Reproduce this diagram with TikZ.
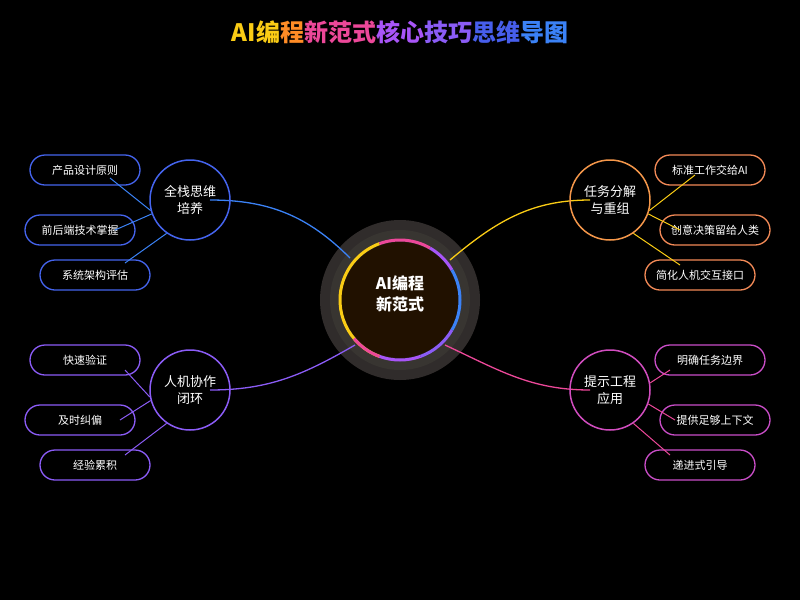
\documentclass[tikz,border=0pt]{standalone}
\usepackage{fontspec}
\setmainfont{Noto Sans CJK SC}
\usetikzlibrary{shapes.misc}
\definecolor{cb}{HTML}{3B82F6}\definecolor{ci}{HTML}{4F46E5}
\definecolor{cy}{HTML}{FACC15}\definecolor{cp}{HTML}{EC4899}
\definecolor{cv}{HTML}{8B5CF6}\definecolor{cmag}{HTML}{A855F7}
\begin{document}
\begin{tikzpicture}[x=1pt,y=-1pt,
 leaf/.style={rounded rectangle,minimum width=110pt,minimum height=30pt,line width=1.3pt,text=white,font=\fontsize{11}{11}\selectfont,inner sep=0pt},
 branch/.style={circle,minimum size=80pt,line width=1.5pt,text=white,align=center,font=\fontsize{13}{17}\selectfont,inner sep=0pt},
 conn/.style={line width=1.3pt},
 sub/.style={line width=1pt}]
\fill[black] (0,0) rectangle (800,600);
\useasboundingbox (0,0) rectangle (800,600);
% title
\node (title) at (400,32) {\fontsize{24}{24}\selectfont\bfseries\textcolor{cy}{AI编}\textcolor{orange!80!pink}{程}\textcolor{cp}{新范式}\textcolor{cmag}{核心}\textcolor{cv}{技巧}\textcolor{ci!60!cb}{思维}\textcolor{cb}{导图}};
% center glow
\fill[yellow!6!black] (400,300) circle (80);
\fill[yellow!10!black] (400,300) circle (70);
\fill[orange!13!black] (400,300) circle (60);
\draw[gray!30!black,line width=0.8pt] (345,280) arc[start angle=200,end angle=340,radius=58.5];
\draw[gray!30!black,line width=0.8pt] (345,320) arc[start angle=160,end angle=20,radius=58.5];
% connectors
\coordinate (c1) at (350,258); \coordinate (c2) at (450,260);
\coordinate (c3) at (355,345); \coordinate (c4) at (445,345);
\coordinate (b1) at (210,200); \coordinate (b2) at (590,200);
\coordinate (b3) at (210,390); \coordinate (b4) at (590,390);
\draw[conn,cb] (b1) to[out=0,in=135] (c1);
\draw[conn,cy] (b2) to[out=180,in=40] (c2);
\draw[conn,cv] (b3) to[out=0,in=-150] (c3);
\draw[conn,cp] (b4) to[out=180,in=-25] (c4);
% center ring
\node[circle,minimum size=120pt,inner sep=0pt] (center) at (400,300) {};
\draw[line width=3pt,cy] (400,300) ++(110:60) arc[start angle=110,end angle=250,radius=60];
\draw[line width=3pt,cp] (400,300) ++(250:60) arc[start angle=250,end angle=300,radius=60];
\draw[line width=3pt,cmag] (400,300) ++(300:60) arc[start angle=300,end angle=330,radius=60];
\draw[line width=3pt,cb] (400,300) ++(330:60) arc[start angle=-30,end angle=30,radius=60];
\draw[line width=3pt,cv] (400,300) ++(30:60) arc[start angle=30,end angle=70,radius=60];
\draw[line width=3pt,cmag] (400,300) ++(70:60) arc[start angle=70,end angle=110,radius=60];
\draw[line width=3pt,cp] (400,300) ++(110:60) arc[start angle=110,end angle=140,radius=60];
\node[text=white,align=center,font=\fontsize{16}{21}\selectfont\bfseries] (ctext) at (400,294) {AI编程\\新范式};
% branches
\node[branch,draw=ci!50!cb] (n1) at (190,200) {全栈思维\\培养};
\node[branch,draw=cy!60!cp] (n2) at (610,200) {任务分解\\与重组};
\node[branch,draw=cv] (n3) at (190,390) {人机协作\\闭环};
\node[branch,draw=cp!60!cmag] (n4) at (610,390) {提示工程\\应用};
% leaves
\node[leaf,draw=ci!50!cb] (l1) at (85,170) {产品设计原则};
\node[leaf,draw=ci!50!cb] (l2) at (80,230) {前后端技术掌握};
\node[leaf,draw=ci!50!cb] (l3) at (95,275) {系统架构评估};
\node[leaf,draw=cy!50!cp] (r1) at (710,170) {标准工作交给AI};
\node[leaf,draw=cy!50!cp] (r2) at (715,230) {创意决策留给人类};
\node[leaf,draw=cy!50!cp] (r3) at (700,275) {简化人机交互接口};
\node[leaf,draw=cv] (l4) at (85,360) {快速验证};
\node[leaf,draw=cv] (l5) at (80,420) {及时纠偏};
\node[leaf,draw=cv] (l6) at (95,465) {经验累积};
\node[leaf,draw=cp!50!cmag] (r4) at (710,360) {明确任务边界};
\node[leaf,draw=cp!50!cmag] (r5) at (715,420) {提供足够上下文};
\node[leaf,draw=cp!50!cmag] (r6) at (700,465) {递进式引导};
% sub connectors
\draw[sub,cb] (l1.center) ++(25,8) -- (n1.195);
\draw[sub,cb] (l2.center) ++(35,0) -- (n1.200);
\draw[sub,cb] (l3.center) ++(30,-12) -- (n1.235);
\draw[sub,cy] (r1.center) ++(-15,5) -- (n2.-15);
\draw[sub,cy] (r2.center) ++(-35,0) -- (n2.-20);
\draw[sub,cy] (r3.center) ++(-20,-10) -- (n2.-55);
\draw[sub,cv] (l4.center) ++(40,10) -- (n3.190);
\draw[sub,cv] (l5.center) ++(40,0) -- (n3.195);
\draw[sub,cv] (l6.center) ++(30,-10) -- (n3.235);
\draw[sub,cp] (r4.center) ++(-40,10) -- (n4.10);
\draw[sub,cp] (r5.center) ++(-40,0) -- (n4.-20);
\draw[sub,cp] (r6.center) ++(-30,-10) -- (n4.-55);
\end{tikzpicture}
\end{document}
